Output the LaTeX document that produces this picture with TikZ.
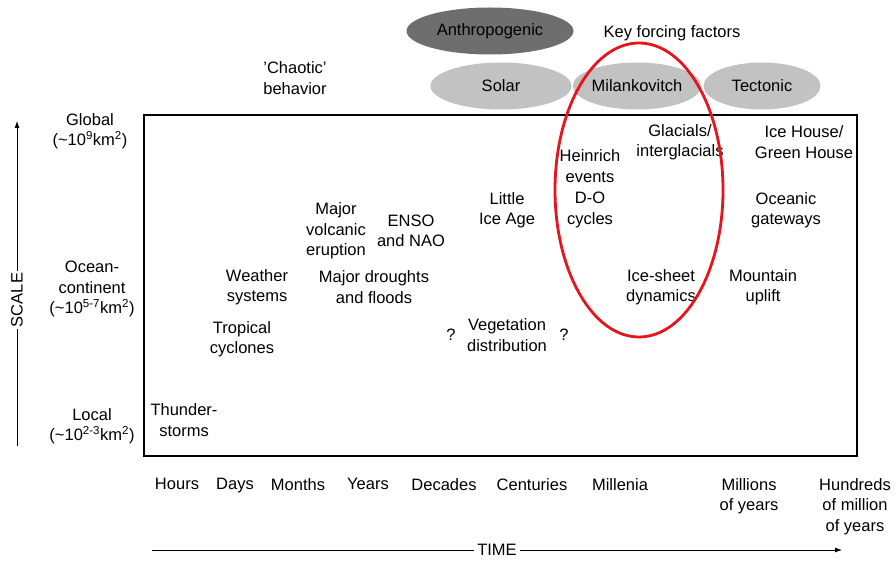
\documentclass[tikz,border=0pt]{standalone}
\usepackage{fontspec}
\setmainfont{Liberation Sans}
\usepackage{tikz}
\usetikzlibrary{arrows.meta,shapes.geometric}

\begin{document}
\begin{tikzpicture}[
  x=1pt, y=-1pt,
  every node/.style={
    align=center,
    inner sep=0pt,
    font=\fontsize{16.5}{20.5}\selectfont
  },
  forcing/.style={
    ellipse,
    fill=forcegray,
    minimum height=47pt
  },
  arrow/.style={-{Latex[length=7pt,width=5pt]}, line width=0.8pt},
  axisline/.style={line width=0.8pt}
]
\definecolor{forcegray}{HTML}{C2C2C2}
\definecolor{humangray}{HTML}{6E6E6E}
\definecolor{ringred}{HTML}{E8141B}
\useasboundingbox (0,0) rectangle (896,561);

% forcing factors
\node[forcing, fill=humangray, minimum width=167pt] (anthro) at (490,31) {Anthropogenic};
\node (key) at (672,33) {Key forcing factors};
\node[forcing, minimum width=141pt] (solar) at (501,86) {Solar};
\node[forcing, minimum width=117pt] (milan) at (637,86) {Milankovitch};
\node[forcing, minimum width=117pt] (tecto) at (762,86) {Tectonic};
\node (chaotic) at (295,78) {'Chaotic'\\behavior};

% main frame
\draw[line width=1.2pt] (144,115) rectangle (857,456);

% scale labels
\node (global) at (90,131) {Global\\(\textasciitilde10\textsuperscript{9}km\textsuperscript{2})};
\node (ocean)  at (92,289) {Ocean-\\continent\\(\textasciitilde10\textsuperscript{5-7}km\textsuperscript{2})};
\node (local)  at (92,426) {Local\\(\textasciitilde10\textsuperscript{2-3}km\textsuperscript{2})};

\coordinate (scalelo) at (17,446);
\coordinate (scalehi) at (17,121);
\node[rotate=90, fill=white, inner sep=2pt] (scale) at (17,300) {SCALE};
\draw[axisline] (scalelo) -- (scale);
\draw[arrow] (scale) -- (scalehi);

% phenomena
\node (thunder)  at (184,420) {Thunder-\\storms};
\node (tropical) at (242,339) {Tropical\\cyclones};
\node (weather)  at (257,287) {Weather\\systems};
\node (volcanic) at (336,231) {Major\\volcanic\\eruption};
\node (enso)     at (411,231) {ENSO\\and NAO};
\node (drought)  at (374,287) {Major droughts\\and floods};
\node (littleice) at (507,210) {Little\\Ice Age};
\node (qleft)    at (451,335) {?};
\node (veget)    at (507,335) {Vegetation\\distribution};
\node (qright)   at (564,335) {?};
\node (heinrich) at (590,166) {Heinrich\\events};
\node (docycle)  at (590,210) {D-O\\cycles};
\node (glacial)  at (680,142) {Glacials/\\interglacials};
\node (icehouse) at (804,142) {Ice House/\\Green House};
\node (oceanic)  at (786,210) {Oceanic\\gateways};
\node (icesheet) at (661,287) {Ice-sheet\\dynamics};
\node (mountain) at (763,287) {Mountain\\uplift};

% Milankovitch ring
\draw[ringred, line width=2.8pt] (639,190) ellipse [x radius=84, y radius=147];

% time labels
\node[anchor=north] (hours)   at (177,478) {Hours};
\node[anchor=north] (days)    at (235,478) {Days};
\node[anchor=north] (months)  at (298,478) {Months};
\node[anchor=north] (years)   at (368,478) {Years};
\node[anchor=north] (decades) at (444,478) {Decades};
\node[anchor=north] (century) at (532,478) {Centuries};
\node[anchor=north] (millen)  at (620,478) {Millenia};
\node[anchor=north] (myears)  at (749,478) {Millions\\of years};
\node[anchor=north] (hmyears) at (855,478) {Hundreds\\of million\\of years};

\coordinate (timelo) at (152,550);
\coordinate (timehi) at (842,550);
\node[fill=white, inner sep=3pt] (time) at (497,550) {TIME};
\draw[axisline] (timelo) -- (time);
\draw[arrow] (time) -- (timehi);

\end{tikzpicture}
\end{document}
